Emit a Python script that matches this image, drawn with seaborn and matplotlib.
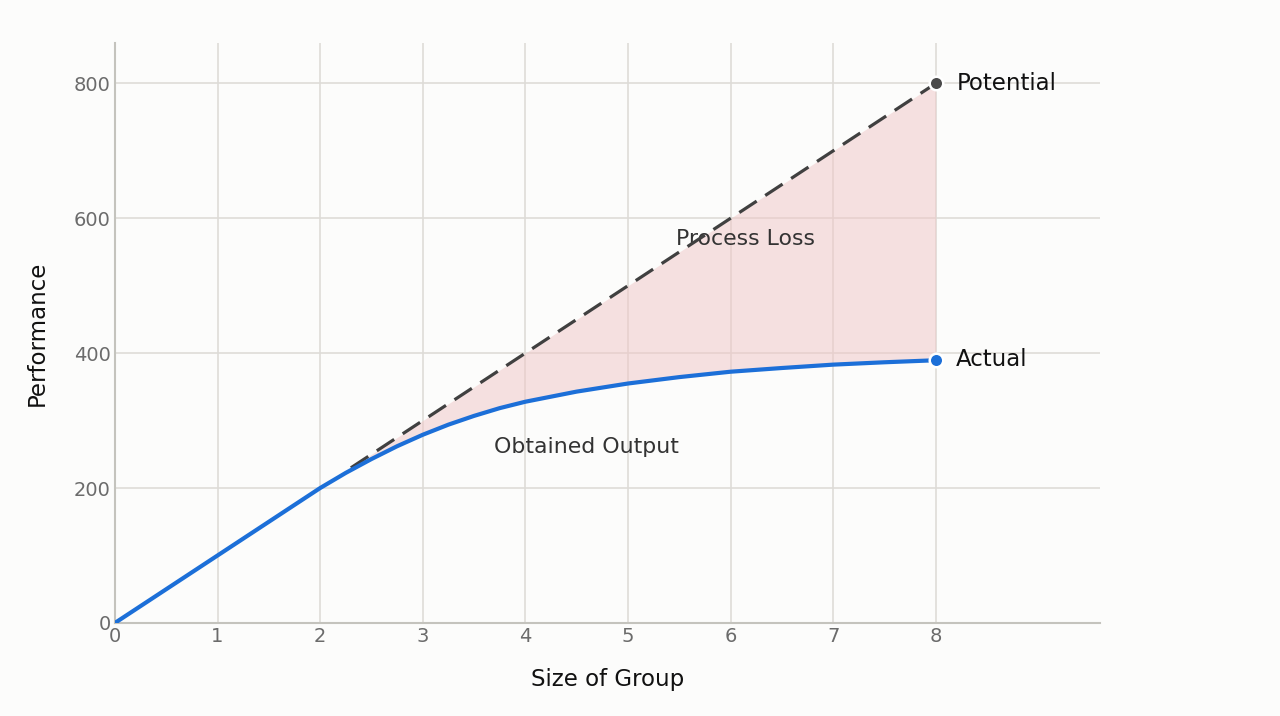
import matplotlib
matplotlib.use('Agg')
import matplotlib.pyplot as plt
import seaborn as sns
import pandas as pd

# ---- values ----
group_size = [0, 0.5, 1, 1.5, 2, 2.25, 2.5, 2.75, 3, 3.25, 3.5, 3.75, 4,
              4.5, 5, 5.5, 6, 6.5, 7, 7.5, 8]
actual = [0, 50, 100, 150, 200, 222.5, 243, 262, 279, 294, 307, 318.5, 328,
          343, 355, 364.5, 372.5, 378, 383, 386.5, 389.5]
potential_x = [2.3, 8]
potential_y = [230, 800]
loss_x = [2.3, 2.5, 2.75, 3, 3.25, 3.5, 3.75, 4, 4.5, 5, 5.5, 6, 6.5, 7, 7.5, 8]
loss_top = [230, 250, 275, 300, 325, 350, 375, 400, 450, 500, 550, 600, 650, 700, 750, 800]
loss_bottom = [227, 243, 262, 279, 294, 307, 318.5, 328, 343, 355, 364.5, 372.5,
               378, 383, 386.5, 389.5]

BG = '#fcfcfb'
BLUE = '#1c6fd8'
DARK = '#404040'

sns.set_theme(style='whitegrid')
plt.rcParams['font.family'] = ['DejaVu Sans']

fig = plt.figure(figsize=(12.8, 7.16), dpi=100, facecolor=BG)
ax = fig.add_axes([0.0898, 0.130, 0.7695, 0.810])
ax.set_facecolor(BG)

df = pd.DataFrame({'size': group_size, 'perf': actual})

ax.fill_between(loss_x, loss_bottom, loss_top, color='#f0c6c6', alpha=0.5,
                linewidth=0, zorder=2)
ax.plot(potential_x, potential_y, linestyle=(0, (6.5, 3.2)), color=DARK,
        linewidth=2.3, zorder=3.6)
sns.lineplot(data=df, x='size', y='perf', ax=ax, color=BLUE, linewidth=3,
             zorder=4)

ax.scatter([potential_x[-1]], [potential_y[-1]], s=95, color='#4a4a4a',
           edgecolor='white', linewidth=1.8, zorder=5)
ax.scatter([group_size[-1]], [actual[-1]], s=95, color=BLUE,
           edgecolor='white', linewidth=1.8, zorder=5)

ax.text(8.2, 800, 'Potential', fontsize=16.5, color='#111111', va='center')
ax.text(8.2, 390, 'Actual', fontsize=16.5, color='#111111', va='center')
ax.text(6.15, 570, 'Process Loss', fontsize=15.8, color='#333333',
        ha='center', va='center', zorder=3.5)
ax.text(4.6, 261, 'Obtained Output', fontsize=15.8, color='#333333',
        ha='center', va='center')

ax.set_xlim(0, 9.6)
ax.set_ylim(0, 860)
ax.set_xticks(range(0, 9))
ax.set_yticks([0, 200, 400, 600, 800])
ax.grid(True, color='#dedcd8', linewidth=1.2)
ax.set_axisbelow(True)

for side in ['top', 'right']:
    ax.spines[side].set_visible(False)
for side in ['left', 'bottom']:
    ax.spines[side].set_color('#c4c3bd')
    ax.spines[side].set_linewidth(1.5)

ax.tick_params(axis='both', labelsize=14, labelcolor='#6b6b6b', length=0, pad=3)
ax.set_xlabel('Size of Group', fontsize=16.5, color='#111111', labelpad=16)
ax.set_ylabel('Performance', fontsize=16.5, color='#111111', labelpad=18)

fig.savefig('out.png', dpi=100, facecolor=BG)
plt.close(fig)
